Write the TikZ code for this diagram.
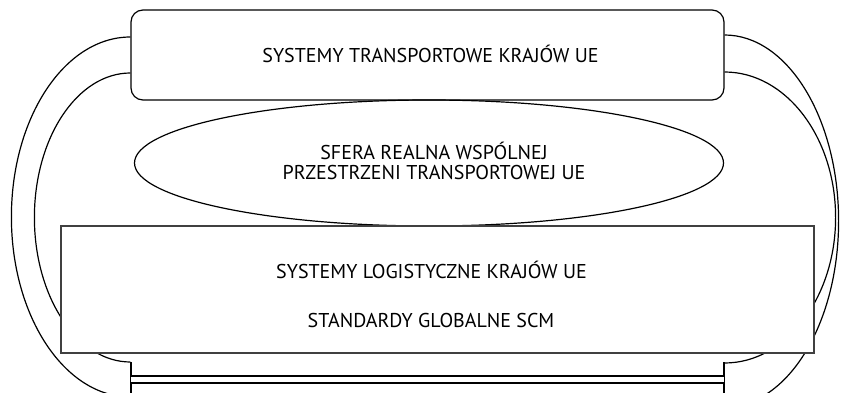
\documentclass[tikz,border=0pt]{standalone}
\usepackage{fontspec}
\newfontfamily\ptsans{PT Sans}
\usetikzlibrary{shapes.geometric}
\tikzset{
  lbl/.style={font=\ptsans\fontsize{20}{20}\selectfont, inner sep=0pt},
  boxtop/.style={draw, rounded corners=12pt, minimum width=593pt, minimum height=90pt, inner sep=0pt},
  oval/.style={draw, ellipse, minimum width=589pt, minimum height=126pt, inner sep=0pt, align=center},
  boxlow/.style={draw=black!75, fill=white, minimum width=753pt, minimum height=127pt, inner sep=0pt}
}
\begin{document}
\begin{tikzpicture}[x=1pt,y=-1pt,line width=1.2pt]
  \useasboundingbox (0,0) rectangle (855,393);
  \clip (0,0) rectangle (855,393);
  \node[boxtop] (top) at (427.5,55) {};
  \node[lbl] (toptxt) at (430.5,54) {SYSTEMY TRANSPORTOWE KRAJÓW UE};
  \node[oval] (sfera) at (429,163) {};
  \node[lbl, align=center] (sferatxt) at (434,161) {SFERA REALNA WSPÓLNEJ\\PRZESTRZENI TRANSPORTOWEJ UE};
  \draw ([yshift=18pt]top.west) arc[start angle=90, end angle=270, x radius=119pt, y radius=180pt];
  \draw ([yshift=-18pt]top.west) arc[start angle=90, end angle=270, x radius=96pt, y radius=144.5pt];
  \draw ([yshift=20pt]top.east) arc[start angle=90, end angle=-90, x radius=114pt, y radius=186pt];
  \draw ([yshift=-17pt]top.east) arc[start angle=90, end angle=-90, x radius=111pt, y radius=145.5pt];
  \node[boxlow] (logist) at (437.5,289.5) {};
  \node[lbl] (logtxt) at (431.5,270) {SYSTEMY LOGISTYCZNE KRAJÓW UE};
  \node[lbl] (scmtxt) at (431,320) {STANDARDY GLOBALNE SCM};
  \coordinate (bl) at (131,362);
  \coordinate (br) at (724,362);
  \draw (bl) -- ++(0,40);
  \draw (br) -- ++(0,40);
  \draw[line width=2.6pt, double, double distance=4.4pt] ([yshift=-17.5pt]bl) -- ([yshift=-17.5pt]br);
\end{tikzpicture}
\end{document}
